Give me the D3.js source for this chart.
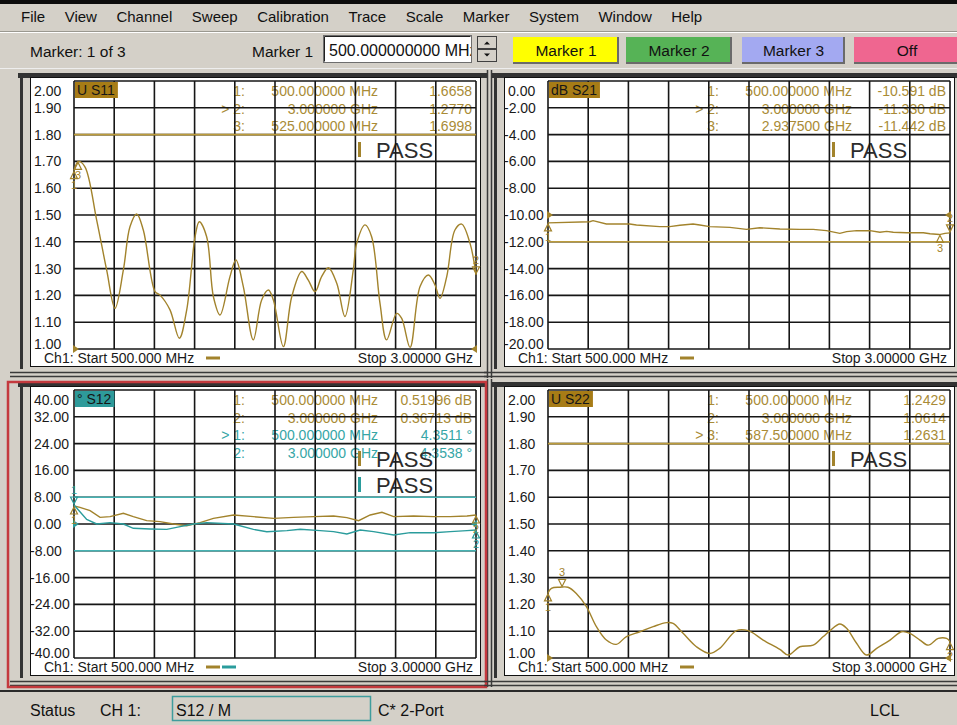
<!DOCTYPE html>
<html>
<head>
<meta charset="utf-8">
<script src="https://cdn.jsdelivr.net/npm/d3@7"></script>
<style>
  body { margin: 0; background: #d4d0c8; overflow: hidden; }
  svg { display: block; font-family: "Liberation Sans", Arial, sans-serif; }
</style>
</head>
<body>
<svg id="main" width="957" height="725"></svg>
<script>
// ---- data ----
const menuItems = ['File', 'View', 'Channel', 'Sweep', 'Calibration', 'Trace', 'Scale', 'Marker', 'System', 'Window', 'Help'];
const markerButtons = ['Marker 1', 'Marker 2', 'Marker 3', 'Off'];

// frequencies in GHz
const s11Freq = [0.500, 0.527, 0.568, 0.641, 0.703, 0.755, 0.807, 0.848, 0.890, 0.931, 1.004, 1.035, 1.097, 1.155, 1.201, 1.253, 1.279, 1.325, 1.367, 1.408, 1.470, 1.507, 1.553, 1.615, 1.667, 1.709, 1.740, 1.802, 1.854, 1.916, 1.957, 1.999, 2.040, 2.082, 2.134, 2.185, 2.237, 2.258, 2.310, 2.351, 2.403, 2.444, 2.507, 2.538, 2.590, 2.652, 2.704, 2.745, 2.776, 2.818, 2.869, 2.911, 2.963, 3.000];
const s11Val = [1.666, 1.700, 1.680, 1.481, 1.295, 1.152, 1.295, 1.456, 1.504, 1.444, 1.214, 1.201, 1.146, 1.040, 1.146, 1.419, 1.475, 1.419, 1.195, 1.127, 1.270, 1.332, 1.233, 1.034, 1.183, 1.220, 1.183, 1.009, 1.195, 1.289, 1.257, 1.214, 1.270, 1.303, 1.245, 1.121, 1.295, 1.394, 1.463, 1.419, 1.170, 1.034, 1.133, 1.114, 1.006, 1.233, 1.276, 1.239, 1.189, 1.270, 1.444, 1.466, 1.394, 1.277];

const s21Freq = [0.500, 0.759, 0.780, 0.863, 1.008, 1.050, 1.195, 1.257, 1.320, 1.402, 1.444, 1.506, 1.631, 1.734, 1.817, 1.942, 2.066, 2.149, 2.232, 2.315, 2.357, 2.419, 2.502, 2.564, 2.606, 2.647, 2.730, 2.834, 2.876, 2.934, 2.969, 3.000];
const s21Val = [-10.59, -10.50, -10.42, -10.67, -10.67, -10.75, -10.87, -10.87, -10.77, -10.67, -10.75, -10.87, -10.92, -11.07, -10.95, -11.04, -11.07, -11.07, -11.17, -11.37, -11.24, -11.17, -11.17, -11.29, -11.22, -11.29, -11.32, -11.32, -11.40, -11.46, -11.37, -11.33];

const s12MagFreq = [0.500, 0.537, 0.600, 0.662, 0.724, 0.807, 0.869, 0.952, 1.035, 1.118, 1.201, 1.284, 1.367, 1.492, 1.616, 1.741, 1.865, 1.990, 2.114, 2.197, 2.270, 2.342, 2.415, 2.488, 2.612, 2.737, 2.840, 2.944, 3.000];
const s12MagVal = [5.37, 4.98, 3.98, 1.99, 2.19, 3.18, 2.19, 1.00, 0.70, 0.00, -0.50, 0.40, 1.69, 2.69, 2.19, 1.69, 1.99, 2.19, 2.39, 1.89, 1.00, 2.69, 3.48, 2.19, 2.39, 2.19, 2.19, 2.39, 2.69];
const s12PhaseFreq = [0.500, 0.537, 0.579, 0.641, 0.724, 0.807, 0.869, 0.973, 1.077, 1.160, 1.243, 1.326, 1.492, 1.616, 1.699, 1.824, 1.907, 2.031, 2.114, 2.197, 2.280, 2.363, 2.488, 2.591, 2.737, 2.840, 2.944, 3.000];
const s12PhaseVal = [5.67, 3.68, 1.39, 0.00, 0.40, 0.00, -1.29, -1.49, -1.59, -0.80, 0.00, 0.40, 0.00, -1.59, -2.29, -1.99, -1.59, -1.99, -2.29, -2.99, -1.79, -2.29, -3.28, -2.59, -2.59, -2.29, -1.99, -1.79];

const s22Freq = [0.500, 0.521, 0.573, 0.624, 0.676, 0.739, 0.801, 0.863, 0.925, 0.988, 1.071, 1.154, 1.237, 1.278, 1.340, 1.423, 1.506, 1.568, 1.672, 1.745, 1.838, 1.942, 1.994, 2.066, 2.149, 2.212, 2.253, 2.315, 2.357, 2.419, 2.481, 2.544, 2.627, 2.699, 2.751, 2.813, 2.865, 2.927, 2.979, 3.000];
const s22Val = [1.243, 1.260, 1.264, 1.264, 1.241, 1.192, 1.117, 1.067, 1.051, 1.080, 1.098, 1.117, 1.132, 1.129, 1.092, 1.042, 1.017, 1.036, 1.102, 1.102, 1.067, 1.032, 1.011, 1.042, 1.048, 1.080, 1.102, 1.127, 1.111, 1.055, 1.011, 1.036, 1.067, 1.098, 1.092, 1.067, 1.048, 1.073, 1.073, 1.061];

// y tick labels
const swrTicks = [2.0, 1.9, 1.8, 1.7, 1.6, 1.5, 1.4, 1.3, 1.2, 1.1, 1.0];
const s21Ticks = [0, -2, -4, -6, -8, -10, -12, -14, -16, -18, -20];
const s12Ticks = [40, 32, 24, 16, 8, 0, -8, -16, -24, -32, -40];

// markers
const s11MarkFreq = [0.5, 3.0, 0.525];
const s11MarkVal = [1.6658, 1.2770, 1.6998];
const s21MarkFreq = [0.5, 3.0, 2.9375];
const s21MarkVal = [-10.591, -11.330, -11.442];
const s22MarkFreq = [0.5, 3.0, 0.5875];
const s22MarkVal = [1.2429, 1.0614, 1.2631];

// marker readouts
const s11Readout = [['1:', '500.000000 MHz', '1.6658'], ['> 2:', '3.000000 GHz', '1.2770'], ['3:', '525.000000 MHz', '1.6998']];
const s21Readout = [['1:', '500.000000 MHz', '-10.591 dB'], ['> 2:', '3.000000 GHz', '-11.330 dB'], ['3:', '2.937500 GHz', '-11.442 dB']];
const s12MagReadout = [['1:', '500.000000 MHz', '0.51996 dB'], ['2:', '3.000000 GHz', '0.36713 dB']];
const s12PhaseReadout = [['> 1:', '500.000000 MHz', '4.3511 °'], ['2:', '3.000000 GHz', '4.3538 °']];
const s22Readout = [['1:', '500.000000 MHz', '1.2429'], ['2:', '3.000000 GHz', '1.0614'], ['> 3:', '587.500000 MHz', '1.2631']];

// ---- drawing ----
const svg = d3.select('#main');
const W = 957, H = 725;
const GOLD = '#a2832c', GOLD_TXT = '#a98b36', GOLD_LIM = '#bc9c3c';
const TEAL = '#2a9c9c', TEAL_TXT = '#36a6a6', TEAL_LIM = '#45b2b2';

svg.append('rect').attr('width', W).attr('height', H).attr('fill', '#d4d0c8');
svg.append('rect').attr('width', W).attr('height', 4).attr('fill', '#0c0c0c');

// menu bar
let mx = 21;
menuItems.forEach(function(m) {
  const t = svg.append('text').attr('x', mx).attr('y', 22).attr('font-size', 15).attr('fill', '#111').text(m);
  mx += t.node().getComputedTextLength() + 19.5;
});
svg.append('line').attr('x1', 0).attr('x2', W).attr('y1', 31.5).attr('y2', 31.5).attr('stroke', '#9a9890');
svg.append('line').attr('x1', 0).attr('x2', W).attr('y1', 32.5).attr('y2', 32.5).attr('stroke', '#fff');

// toolbar
svg.append('text').attr('x', 30).attr('y', 57).attr('font-size', 15.5).attr('fill', '#111').text('Marker: 1 of 3');
svg.append('text').attr('x', 252).attr('y', 57).attr('font-size', 15.5).attr('fill', '#111').text('Marker 1');
svg.append('clipPath').attr('id', 'tbclip').append('rect').attr('x', 324).attr('y', 36).attr('width', 147).attr('height', 26);
svg.append('rect').attr('x', 323.5).attr('y', 35.5).attr('width', 148).attr('height', 27).attr('fill', '#fff').attr('stroke', '#6e6e6e');
svg.append('path').attr('d', 'M324.5,61.5V36.5H470.5').attr('fill', 'none').attr('stroke', '#202020');
svg.append('text').attr('x', 329).attr('y', 56).attr('font-size', 16).attr('fill', '#111').attr('clip-path', 'url(#tbclip)').text('500.000000000 MHz');
// spinner
[[36, 49], [49, 62]].forEach(function(s, i) {
  svg.append('rect').attr('x', 477.5).attr('y', s[0] + 0.5).attr('width', 19).attr('height', s[1] - s[0] - 1).attr('fill', '#d4d0c8').attr('stroke', '#404040');
  const cy = (s[0] + s[1]) / 2;
  svg.append('path').attr('d', i === 0 ? 'M484,' + (cy + 2) + 'L487,' + (cy - 1) + 'L490,' + (cy + 2) + 'Z' : 'M484,' + (cy - 2) + 'L487,' + (cy + 1) + 'L490,' + (cy - 2) + 'Z').attr('fill', '#111');
});
// marker buttons
const btnX = [513, 626, 742, 854];
const btnW = [106, 106, 103, 106];
const btnFill = ['#ffff00', '#56b356', '#a3a9f1', '#ef6690'];
markerButtons.forEach(function(b, i) {
  svg.append('rect').attr('x', btnX[i]).attr('y', 37).attr('width', btnW[i]).attr('height', 27).attr('fill', '#6a6a6a');
  svg.append('rect').attr('x', btnX[i]).attr('y', 37).attr('width', btnW[i] - 2).attr('height', 25).attr('fill', btnFill[i]);
  svg.append('text').attr('x', btnX[i] + btnW[i] / 2).attr('y', 56).attr('text-anchor', 'middle').attr('font-size', 15.5).attr('fill', '#111').text(b);
});
svg.append('line').attr('x1', 0).attr('x2', W).attr('y1', 68.5).attr('y2', 68.5).attr('stroke', '#eeeeee');

function fmtTick(v) { return v.toFixed(2); }

function drawPanel(c) {
  const g = svg.append('g');
  const px = c.px, py = c.py, pw = 402, ph = 268;
  const x = d3.scaleLinear().domain([0.5, 3.0]).range([px, px + pw]);
  const y = d3.scaleLinear().domain(c.domain).range([py + ph, py]);

  // window frame
  g.append('rect').attr('x', px - 56).attr('y', py - 8).attr('width', 470).attr('height', 5).attr('fill', '#333');
  g.append('rect').attr('x', px - 54).attr('y', py - 8).attr('width', 3).attr('height', 296).attr('fill', '#333');
  g.append('rect').attr('x', px - 43.5).attr('y', py - 3.5).attr('width', 450).attr('height', 289).attr('fill', '#fff').attr('stroke', '#111');
  [291.5, 295.5].forEach(function(d) {
    g.append('line').attr('x1', px - 64).attr('x2', px + 414).attr('y1', py + d).attr('y2', py + d).attr('stroke', '#3a3a3a').attr('stroke-width', 1.5);
  });
  [413.5, 417.5].forEach(function(d) {
    g.append('line').attr('x1', px + d).attr('x2', px + d).attr('y1', py - 11).attr('y2', py + 297).attr('stroke', '#3a3a3a').attr('stroke-width', 1.5);
  });
  if (c.active) {
    g.append('rect').attr('x', px - 66).attr('y', py - 8).attr('width', 478).attr('height', 305)
      .attr('fill', 'none').attr('stroke', '#c43a3e').attr('stroke-width', 2.5);
  }

  // marker readouts
  let row = 0;
  c.readouts.forEach(function(r) {
    r.rows.forEach(function(cells) {
      const yy = py + 10 + row * 17.7;
      const anchors = [171, 304, 398];
      cells.forEach(function(t, k) {
        g.append('text').attr('x', px + anchors[k]).attr('y', yy).attr('dy', '0.36em').attr('text-anchor', 'end')
          .attr('font-size', 14).attr('fill', r.color).text(t);
      });
      row++;
    });
  });

  // PASS indicators
  c.pass.forEach(function(col, i) {
    const yy = py + 69 + i * 26;
    g.append('rect').attr('x', px + 284).attr('y', yy - 8).attr('width', 3).attr('height', 15).attr('fill', col);
    g.append('text').attr('x', px + 302).attr('y', yy).attr('dy', '0.36em').attr('font-size', 22).attr('fill', '#2c2c2c').text('PASS');
  });

  // grid
  const xGrid = d3.range(0, 11).map(function(i) { return 0.5 + i * 0.25; });
  g.selectAll('line.v').data(xGrid).enter().append('line')
    .attr('x1', function(d) { return x(d); }).attr('x2', function(d) { return x(d); })
    .attr('y1', py).attr('y2', py + ph).attr('stroke', '#161616').attr('stroke-width', 1.6);
  g.selectAll('line.h').data(c.ticks).enter().append('line')
    .attr('x1', px).attr('x2', px + pw)
    .attr('y1', function(d) { return y(d); }).attr('y2', function(d) { return y(d); })
    .attr('stroke', '#161616').attr('stroke-width', 1.6);

  // limit lines
  c.limits.forEach(function(l) {
    g.append('line').attr('x1', px).attr('x2', px + pw).attr('y1', y(l.v)).attr('y2', y(l.v))
      .attr('stroke', l.color).attr('stroke-width', 1.6);
  });

  // reference level arrows
  c.refColors.forEach(function(col) {
    const ry = y(c.ref);
    g.append('path').attr('d', 'M' + (px - 1) + ',' + (ry - 4) + 'L' + (px + 5) + ',' + ry + 'L' + (px - 1) + ',' + (ry + 4) + 'Z').attr('fill', col);
    g.append('path').attr('d', 'M' + (px + pw + 1) + ',' + (ry - 4) + 'L' + (px + pw - 5) + ',' + ry + 'L' + (px + pw + 1) + ',' + (ry + 4) + 'Z').attr('fill', col);
  });

  // traces
  c.traces.forEach(function(t) {
    const pts = t.f.map(function(f, i) { return [f, t.v[i]]; });
    const line = d3.line().x(function(d) { return x(d[0]); }).y(function(d) { return y(d[1]); })
      .curve(t.smooth ? d3.curveCatmullRom.alpha(0.5) : d3.curveLinear);
    g.append('path').datum(pts).attr('d', line).attr('fill', 'none').attr('stroke', t.color).attr('stroke-width', 1.4);
  });

  // markers
  c.markers.forEach(function(m) {
    m.f.forEach(function(f, i) {
      const mx = x(f), my = y(m.v[i]);
      const active = (i === m.active);
      const d = active
        ? 'M' + (mx - 3.5) + ',' + (my - 8) + 'L' + (mx + 3.5) + ',' + (my - 8) + 'L' + mx + ',' + (my - 1) + 'Z'
        : 'M' + (mx - 3.5) + ',' + (my + 8) + 'L' + (mx + 3.5) + ',' + (my + 8) + 'L' + mx + ',' + (my + 1) + 'Z';
      g.append('path').attr('d', d).attr('fill', 'none').attr('stroke', m.color).attr('stroke-width', 1.2);
      g.append('text').attr('x', mx).attr('y', active ? my - 11 : my + 18).attr('text-anchor', 'middle')
        .attr('font-size', 11).attr('fill', m.color).text(String(i + 1));
    });
  });

  // title box
  const tt = g.append('text').attr('x', px + 3).attr('y', py + 14).attr('font-size', 14).attr('fill', '#161616').text(c.title);
  const tw = tt.node().getComputedTextLength();
  g.insert('rect', function() { return tt.node(); }).attr('x', px + 1).attr('y', py + 1).attr('width', tw + 5).attr('height', 16).attr('fill', c.titleFill);

  // y labels
  c.ticks.forEach(function(v, i) {
    let yy = y(v);
    if (i === 0) yy = py + 10;
    if (i === c.ticks.length - 1) yy = py + ph - 5;
    g.append('text').attr('x', v < 0 ? px - 44 : px - 40).attr('y', yy).attr('dy', '0.36em')
      .attr('font-size', 14).attr('fill', '#1a1a1a').text(fmtTick(v));
  });

  // sweep annotation
  const by = py + ph + 9;
  g.append('text').attr('x', px - 30).attr('y', by).attr('dy', '0.36em').attr('font-size', 14).attr('fill', '#1a1a1a').text('Ch1: Start 500.000 MHz');
  c.dashes.forEach(function(col, i) {
    g.append('line').attr('x1', px + 132 + i * 16).attr('x2', px + 146 + i * 16).attr('y1', by).attr('y2', by)
      .attr('stroke', col).attr('stroke-width', 3);
  });
  g.append('text').attr('x', px + 399).attr('y', by).attr('dy', '0.36em').attr('text-anchor', 'end').attr('font-size', 14).attr('fill', '#1a1a1a').text('Stop 3.00000 GHz');
}

drawPanel({
  px: 74, py: 81, domain: [1.0, 2.0], ticks: swrTicks, title: 'U S11', titleFill: '#a77c16',
  readouts: [{ rows: s11Readout, color: GOLD_TXT }], pass: [GOLD],
  limits: [{ v: 1.8, color: GOLD_LIM }], ref: 1.0, refColors: [GOLD],
  traces: [{ f: s11Freq, v: s11Val, color: GOLD, smooth: true }],
  markers: [{ f: s11MarkFreq, v: s11MarkVal, active: 1, color: GOLD }],
  dashes: [GOLD]
});
drawPanel({
  px: 548, py: 81, domain: [-20, 0], ticks: s21Ticks, title: 'dB S21', titleFill: '#a77c16',
  readouts: [{ rows: s21Readout, color: GOLD_TXT }], pass: [GOLD],
  limits: [{ v: -12, color: GOLD_LIM }], ref: -10, refColors: [GOLD],
  traces: [{ f: s21Freq, v: s21Val, color: GOLD, smooth: false }],
  markers: [{ f: s21MarkFreq, v: s21MarkVal, active: 1, color: GOLD }],
  dashes: [GOLD]
});
drawPanel({
  px: 74, py: 390, domain: [-40, 40], ticks: s12Ticks, title: '° S12', titleFill: '#2e9a9a', active: true,
  readouts: [{ rows: s12MagReadout, color: GOLD_TXT }, { rows: s12PhaseReadout, color: TEAL_TXT }], pass: [GOLD, TEAL],
  limits: [{ v: 8, color: TEAL_LIM }, { v: -8, color: TEAL_LIM }], ref: 0, refColors: [TEAL],
  traces: [{ f: s12MagFreq, v: s12MagVal, color: GOLD, smooth: false }, { f: s12PhaseFreq, v: s12PhaseVal, color: TEAL, smooth: false }],
  markers: [
    { f: [s12MagFreq[0], s12MagFreq[s12MagFreq.length - 1]], v: [s12MagVal[0], s12MagVal[s12MagVal.length - 1]], active: -1, color: GOLD },
    { f: [s12PhaseFreq[0], s12PhaseFreq[s12PhaseFreq.length - 1]], v: [s12PhaseVal[0], s12PhaseVal[s12PhaseVal.length - 1]], active: 0, color: TEAL }
  ],
  dashes: [GOLD, TEAL]
});
drawPanel({
  px: 548, py: 390, domain: [1.0, 2.0], ticks: swrTicks, title: 'U S22', titleFill: '#a77c16',
  readouts: [{ rows: s22Readout, color: GOLD_TXT }], pass: [GOLD],
  limits: [{ v: 1.8, color: GOLD_LIM }], ref: 1.0, refColors: [GOLD],
  traces: [{ f: s22Freq, v: s22Val, color: GOLD, smooth: true }],
  markers: [{ f: s22MarkFreq, v: s22MarkVal, active: 2, color: GOLD }],
  dashes: [GOLD]
});

// status bar
svg.append('rect').attr('x', 0).attr('y', 690).attr('width', W).attr('height', 2).attr('fill', '#2a2a2a');
svg.append('text').attr('x', 30).attr('y', 716).attr('font-size', 16).attr('fill', '#111').text('Status');
svg.append('text').attr('x', 100).attr('y', 716).attr('font-size', 16).attr('fill', '#111').text('CH 1:');
svg.append('rect').attr('x', 172.5).attr('y', 696.5).attr('width', 198).attr('height', 24).attr('fill', 'none').attr('stroke', '#3f9d9d').attr('stroke-width', 1.5);
svg.append('text').attr('x', 176).attr('y', 716).attr('font-size', 16).attr('fill', '#111').text('S12 / M');
svg.append('text').attr('x', 378).attr('y', 716).attr('font-size', 16).attr('fill', '#111').text('C* 2-Port');
svg.append('text').attr('x', 870).attr('y', 716).attr('font-size', 16).attr('fill', '#111').text('LCL');
</script>
</body>
</html>
